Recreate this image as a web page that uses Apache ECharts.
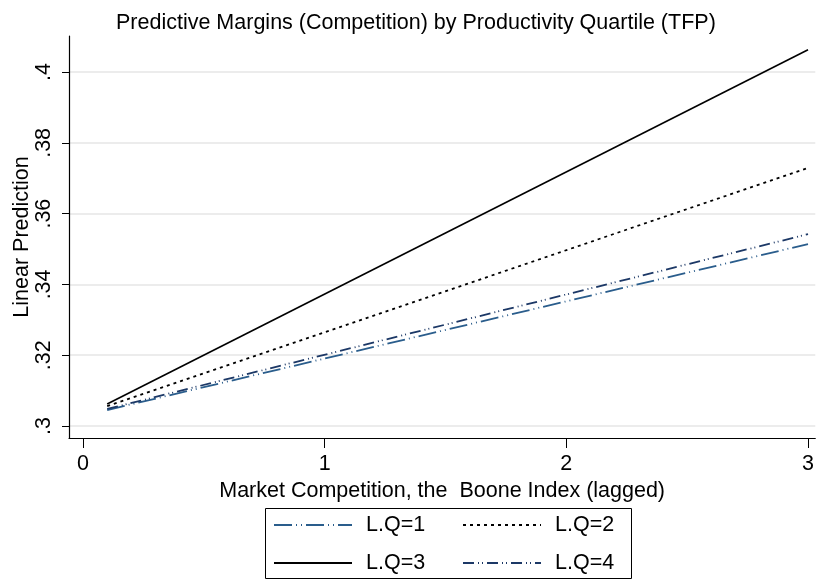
<!DOCTYPE html>
<html>
<head>
<meta charset="utf-8">
<script src="https://cdn.jsdelivr.net/npm/echarts@6/dist/echarts.min.js"></script>
<style>
  html, body { margin: 0; padding: 0; background: #fff; }
  #chart { width: 817px; height: 581px; }
</style>
</head>
<body>
<div id="chart"></div>
<script>
  // 数据
  var xValues = [0.1, 3]
  var q1 = [0.3045, 0.3514]
  var q2 = [0.3056, 0.3729]
  var q3 = [0.3062, 0.4063]
  var q4 = [0.3048, 0.3542]
  var xTicks = [0, 1, 2, 3]
  var yTicks = [0.3, 0.32, 0.34, 0.36, 0.38, 0.4]
  var names = ['L.Q=1', 'L.Q=2', 'L.Q=3', 'L.Q=4']

  function pairs (ys) {
    return xValues.map(function (x, i) { return [x, ys[i]] })
  }

  var font = 'Liberation Sans, Arial, sans-serif'
  var fs = 21.5
  var myChart = echarts.init(document.getElementById('chart'))

  function mkSeries (name, ys, color, type, width) {
    return {
      name: name,
      type: 'line',
      symbol: 'none',
      silent: true,
      data: pairs(ys),
      itemStyle: { color: color },
      lineStyle: { color: color, width: width, type: type }
    }
  }

  function mkLegend (data, left) {
    return {
      data: data,
      orient: 'vertical',
      left: left,
      top: 514,
      padding: 0,
      itemWidth: 78,
      itemHeight: 22,
      itemGap: 16,
      itemStyle: { opacity: 0 }, // 隐藏图例中的圆点
      textStyle: { fontFamily: font, fontSize: fs, color: '#000', padding: [0, 0, 0, 9] }
    }
  }

  myChart.setOption({
    animation: false,
    title: {
      text: 'Predictive Margins (Competition) by Productivity Quartile (TFP)',
      left: 111,
      top: 7,
      textStyle: { fontFamily: font, fontSize: fs, fontWeight: 'normal', color: '#000' }
    },
    grid: { left: 69, right: 1, top: 36, bottom: 143 },
    legend: [mkLegend([names[0], names[2]], 273), mkLegend([names[1], names[3]], 462)],
    graphic: [{
      type: 'rect',
      shape: { x: 265.5, y: 508.5, width: 366, height: 70 },
      style: { fill: 'none', stroke: '#000', lineWidth: 1 }
    }],
    xAxis: {
      type: 'value',
      min: -0.058,
      max: 3.03,
      name: 'Market Competition, the  Boone Index (lagged)',
      nameLocation: 'middle',
      nameGap: 40,
      nameTextStyle: { fontFamily: font, fontSize: fs, color: '#000' },
      axisLine: { onZero: false, lineStyle: { color: '#000', width: 1.2 } },
      axisTick: { customValues: xTicks, length: 10, lineStyle: { color: '#000' } },
      axisLabel: {
        customValues: xTicks,
        margin: 15,
        fontFamily: font,
        fontSize: fs,
        color: '#000'
      },
      splitLine: { show: false }
    },
    yAxis: {
      type: 'value',
      min: 0.2966,
      max: 0.4102,
      name: 'Linear Prediction',
      nameLocation: 'middle',
      nameGap: 36,
      nameMoveOverlap: false,
      nameTextStyle: { fontFamily: font, fontSize: fs, color: '#000' },
      axisLine: { show: true, onZero: false, lineStyle: { color: '#000', width: 1.2 } },
      axisTick: { show: true, customValues: yTicks, length: 7, lineStyle: { color: '#000' } },
      axisLabel: {
        customValues: yTicks,
        rotate: 90,
        margin: 14,
        fontFamily: font,
        fontSize: fs,
        color: '#000',
        formatter: function (v) { return String(+v.toFixed(2)).replace(/^0/, '') }
      },
      splitLine: { show: true, lineStyle: { color: '#e6e6e6', width: 1.5 } }
    },
    series: [
      mkSeries(names[0], q1, '#2a5d8c', [18, 4, 1, 4, 1, 4], 1.8),
      mkSeries(names[1], q2, '#000', [3, 4], 1.8),
      mkSeries(names[2], q3, '#000', 'solid', 1.6),
      mkSeries(names[3], q4, '#1c3866', [11, 4, 1, 3, 1, 4], 1.8)
    ]
  })
</script>
</body>
</html>
